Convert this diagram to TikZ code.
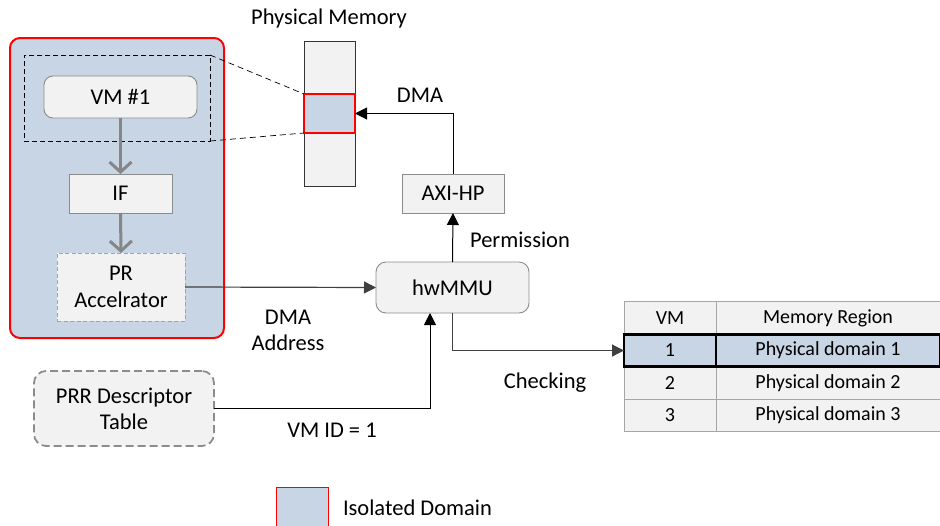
\documentclass[tikz,border=0pt]{standalone}
\usepackage{fontspec}
\setmainfont{Carlito}
\usetikzlibrary{arrows.meta}
\definecolor{isoblue}{HTML}{C8D5E5}
\definecolor{boxfill}{HTML}{F2F2F2}
\definecolor{boxline}{HTML}{8C8C8C}
\definecolor{tabline}{HTML}{A6A6A6}
\definecolor{lnk}{HTML}{404040}
\tikzset{
  every node/.style={font=\fontsize{22.5}{26}\selectfont, inner sep=0pt, outer sep=0pt},
  plainbox/.style={draw=boxline, line width=0.9pt, fill=boxfill, minimum width=#1},
  tcell/.style={draw=tabline, line width=0.8pt, fill=boxfill, minimum height=32.5pt, font=\fontsize{20}{24}\selectfont},
  hcell/.style={draw=black, line width=2.6pt, fill=isoblue, minimum height=32.5pt, font=\fontsize{20}{24}\selectfont},
  grayarrow/.style={draw=gray!95, line width=3pt, -{Straight Barb[length=10pt,width=22pt,line width=3pt]}},
  blackarrow/.style={draw=black, line width=1pt, -{Triangle[length=12pt,width=12pt]}},
  lnkarrow/.style={draw=lnk, line width=1.2pt, -{Triangle[length=12pt,width=12pt]}},
  lbl/.style={align=center}
}
\begin{document}
\begin{tikzpicture}[x=1pt,y=-1pt]
\useasboundingbox (0,0) rectangle (940,525);
% isolated domain
\node[draw=red, line width=2pt, fill=isoblue, rounded corners=10pt, minimum width=214pt, minimum height=300pt] (iso) at (117,188) {};
\node[draw=black, dash pattern=on 5pt off 3pt, line width=0.9pt, minimum width=186pt, minimum height=86pt] (sel) at (117,98) {};
\node[plainbox=153pt, rounded corners=9pt, minimum height=42pt] (vm) at (120.5,97) {VM \#1};
\node[plainbox=103pt, minimum height=39pt] (if) at (120.5,193.5) {IF};
\node[draw=boxline!80, dash pattern=on 4pt off 2.5pt, line width=1pt, fill=boxfill, minimum width=128pt, minimum height=68pt, align=center] (pr) at (121,287) {PR\\[1pt]Accelrator};
% physical memory
\node (memlbl) at (329,19) {Physical Memory};
\node[draw=black!80, line width=0.9pt, fill=boxfill, minimum width=51pt, minimum height=145pt] (mem) at (329.5,113.5) {};
\node[draw=red, line width=1.6pt, fill=isoblue, minimum width=51pt, minimum height=39pt] (memr) at (329.5,113.5) {};
\draw[dash pattern=on 6pt off 4pt, line width=0.7pt] (sel.north east) -- (memr.north west);
\draw[dash pattern=on 6pt off 4pt, line width=0.7pt] (sel.south east) -- (memr.south west);
% AXI-HP and hwMMU
\node[plainbox=102pt, minimum height=39pt] (axi) at (453,193.5) {AXI-HP};
\node[plainbox=153pt, rounded corners=10pt, minimum height=51pt] (mmu) at (452.5,287.5) {hwMMU};
% PRR descriptor table
\node[draw=boxline, dash pattern=on 8pt off 4pt, line width=1.8pt, fill=boxfill, rounded corners=12pt, minimum width=180pt, minimum height=75pt, align=center] (prr) at (124,408.5) {PRR Descriptor\\[0pt]Table};
% table
\node[tcell, minimum width=92pt] (h1) at (670,318) {VM};
\node[tcell, minimum width=224pt] (h2) at (828,318) {Memory Region};
\node[tcell, minimum width=92pt] (r2a) at (670,383) {2};
\node[tcell, minimum width=224pt] (r2b) at (828,383) {Physical domain 2};
\node[tcell, minimum width=92pt] (r3a) at (670,415.5) {3};
\node[tcell, minimum width=224pt] (r3b) at (828,415.5) {Physical domain 3};
\node[hcell, minimum width=92pt] (r1a) at (670,350.5) {1};
\node[hcell, minimum width=224pt] (r1b) at (828,350.5) {Physical domain 1};
% legend
\node[draw=red, line width=1pt, fill=isoblue, minimum width=52pt, minimum height=50pt] (leg) at (302,512) {};
\node[anchor=west] (legt) at (343,508) {Isolated Domain};
% connectors
\draw[grayarrow] (vm.south) -- (if.north);
\draw[grayarrow] (if.south) -- (pr.north);
\draw[lnkarrow] (pr.east) -- (mmu.west);
\draw[blackarrow] (mmu.north) -- (axi.south);
\draw[blackarrow] (axi.north) |- (memr.east);
\coordinate (mmuin) at ([xshift=-22.5pt]mmu.south);
\draw[blackarrow] (prr.east) -| (mmuin);
\draw[lnkarrow] (mmu.south) |- (r1a.west);
% labels
\node (ldma) at (420,95) {DMA};
\node (lperm) at (520,240) {Permission};
\node[lbl] (ladr) at (288,330) {DMA\\[0pt]Address};
\node (lvmid) at (332,430) {VM ID = 1};
\node (lchk) at (545,383) {Checking};
\end{tikzpicture}
\end{document}
